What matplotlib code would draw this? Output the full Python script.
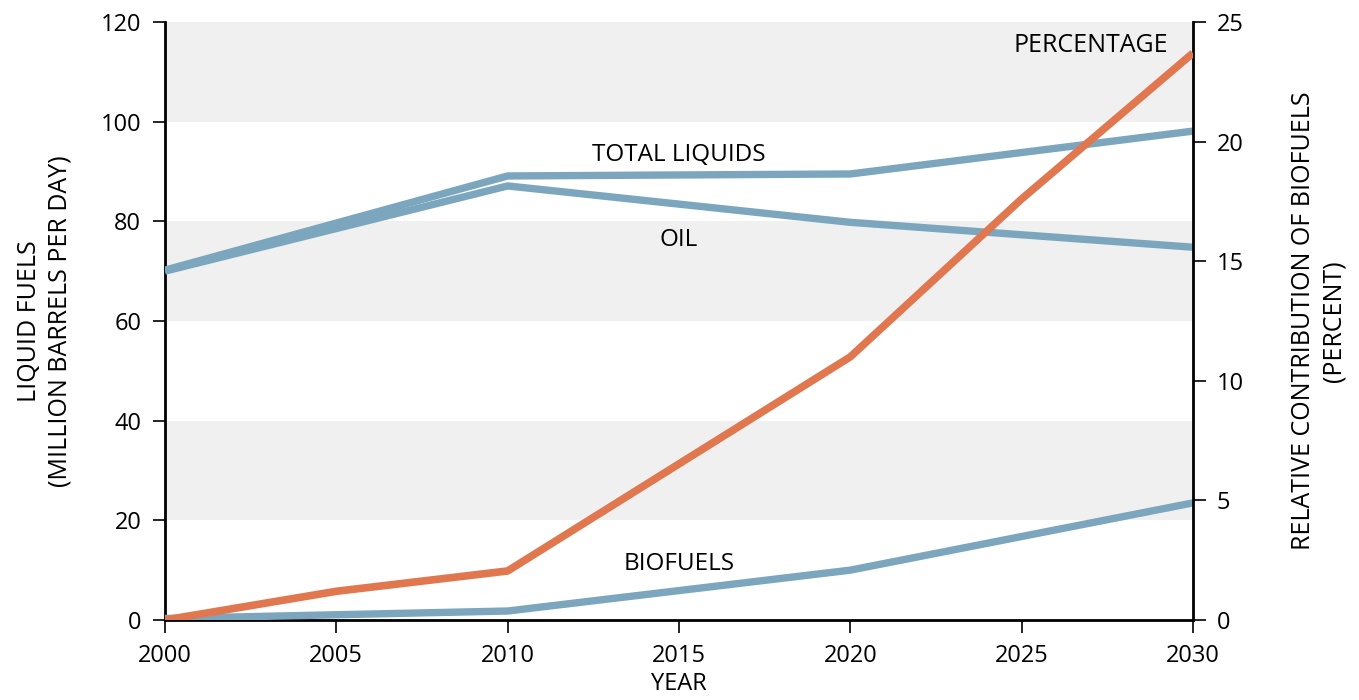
import matplotlib.pyplot as plt

plt.rcParams['font.family'] = ['Open Sans', 'DejaVu Sans']

# data
years = [2000, 2010, 2020, 2030]
total_liquids = [70.2, 89.1, 89.5, 98.1]
oil = [70.0, 87.1, 79.8, 74.8]
biofuels = [0.3, 1.8, 10.0, 23.5]

pct_years = [2000, 2005, 2010, 2020, 2025, 2030]
percentage = [0.0, 1.2, 2.05, 11.0, 17.6, 23.7]

x_ticks = [2000, 2005, 2010, 2015, 2020, 2025, 2030]
left_ticks = [0, 20, 40, 60, 80, 100, 120]
right_ticks = [0, 5, 10, 15, 20, 25]
bands = [(20, 40), (60, 80), (100, 120)]

blue = '#7BA6BE'
orange = '#E0774F'

fig = plt.figure(figsize=(13.59, 7.0), dpi=100)
ax = fig.add_axes([0.1214, 0.1143, 0.7564, 0.8543])
ax2 = ax.twinx()

# grey bands
for lo, hi in bands:
    ax.axhspan(lo, hi, color='#F0F0F0', lw=0, zorder=0)

ax.plot(years, oil, color=blue, lw=5.3, solid_capstyle='butt', zorder=3)
ax.plot(years, total_liquids, color=blue, lw=5.3, solid_capstyle='butt', zorder=3)
ax.plot(years, biofuels, color=blue, lw=5.3, solid_capstyle='butt', zorder=3)
ax2.plot(pct_years, percentage, color=orange, lw=5.5, solid_capstyle='butt', zorder=3)

ax.set_xlim(2000, 2030)
ax.set_ylim(0, 120)
ax2.set_ylim(0, 25)
ax.set_xticks(x_ticks)
ax.set_yticks(left_ticks)
ax2.set_yticks(right_ticks)

for a in (ax, ax2):
    for s in a.spines.values():
        s.set_linewidth(2)
    a.spines['top'].set_visible(False)
    a.tick_params(labelsize=17, length=9, width=1.2, direction='out', pad=8)
ax.spines['right'].set_visible(False)
ax2.spines['left'].set_visible(False)
ax2.spines['bottom'].set_visible(False)

ax.set_xlabel('YEAR', fontsize=17, labelpad=3)
ax.set_ylabel('LIQUID FUELS\n(MILLION BARRELS PER DAY)', fontsize=18,
              labelpad=20, linespacing=1.3)
ax2.set_ylabel('RELATIVE CONTRIBUTION OF BIOFUELS\n(PERCENT)', fontsize=18,
               labelpad=34, linespacing=1.3)

ax.text(2015, 93.3, 'TOTAL LIQUIDS', fontsize=17.5, ha='center', va='center')
ax.text(2015, 76.3, 'OIL', fontsize=17.5, ha='center', va='center')
ax.text(2015, 11.2, 'BIOFUELS', fontsize=17.5, ha='center', va='center')
ax2.text(2029.27, 24.0, 'PERCENTAGE', fontsize=18, ha='right', va='center')

fig.savefig('out.png', dpi=100)
